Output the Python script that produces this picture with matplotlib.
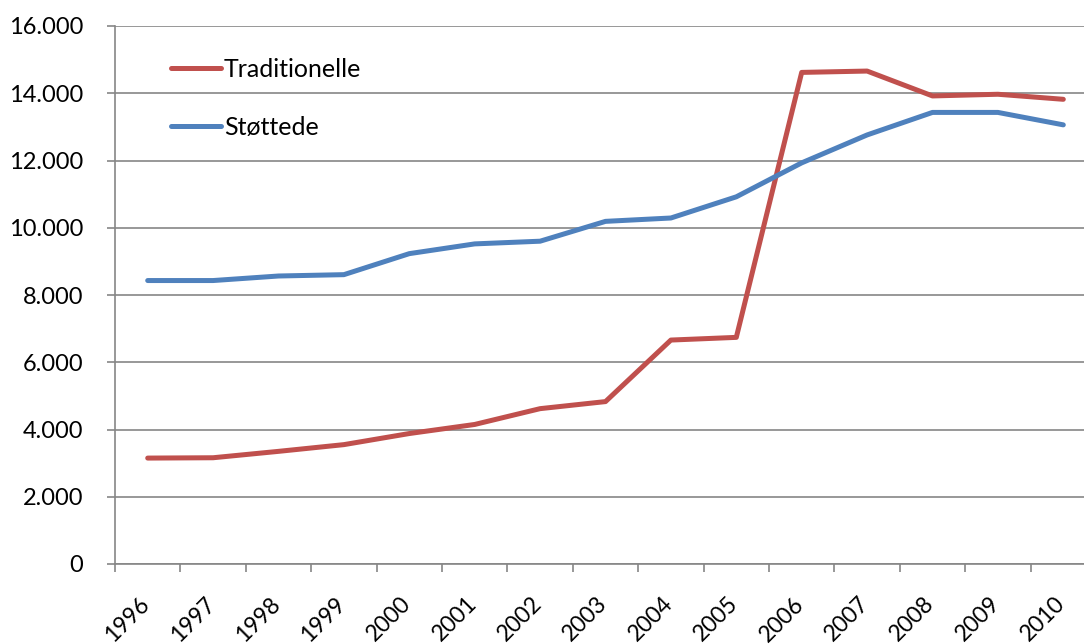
import matplotlib

matplotlib.use("Agg")
import matplotlib.pyplot as plt
from matplotlib.ticker import FixedLocator, FuncFormatter

years = [str(y) for y in range(1996, 2011)]
traditionelle = [3150, 3160, 3350, 3550, 3880, 4150, 4620, 4830, 6660, 6740,
                 14620, 14660, 13920, 13970, 13820]
stottede = [8430, 8430, 8565, 8605, 9230, 9520, 9600, 10190, 10290, 10920,
            11930, 12760, 13430, 13430, 13060]

RED = "#C0504D"
BLUE = "#4F81BD"
GRID = "#868686"

plt.rcParams["font.family"] = ["Lato", "DejaVu Sans"]

fig = plt.figure(figsize=(10.84, 6.44), dpi=100)
W, H = 1084, 644
# plot area runs slightly past the right edge, as in the original
ax = fig.add_axes([115 / W, 80 / H, 981 / W, 538 / H])

x = list(range(len(years)))
ax.plot(x, traditionelle, color=RED, linewidth=3.6, solid_capstyle="round",
        solid_joinstyle="round", label="Traditionelle", zorder=3)
ax.plot(x, stottede, color=BLUE, linewidth=3.6, solid_capstyle="round",
        solid_joinstyle="round", label="Støttede", zorder=3)

ax.set_xlim(-0.5, len(years) - 0.5)
ax.set_ylim(0, 16000)
ax.set_yticks(range(0, 16001, 2000))
ax.yaxis.set_major_formatter(FuncFormatter(lambda v, _: f"{int(v):,}".replace(",", ".")))
ax.grid(axis="y", color=GRID, linewidth=1.2)
ax.set_axisbelow(True)

# tick marks between categories, labels at the centres
ax.xaxis.set_major_locator(FixedLocator([i - 0.5 for i in range(len(years) + 1)]))
ax.xaxis.set_minor_locator(FixedLocator(x))
ax.set_xticklabels([])
ax.set_xticklabels(years, minor=True, rotation=45, ha="right", va="top",
                   rotation_mode="default")
ax.tick_params(axis="x", which="major", length=6, width=1.2, color=GRID, direction="out")
ax.tick_params(axis="x", which="minor", length=0, pad=21, labelsize=16.5)
ax.tick_params(axis="y", length=6, width=1.2, color=GRID, pad=17, labelsize=17)

for lbl in ax.get_xticklabels(minor=True):
    lbl.set_transform(lbl.get_transform() + matplotlib.transforms.ScaledTranslation(
        6 / 100, 0, fig.dpi_scale_trans))

for side in ("top", "right"):
    ax.spines[side].set_visible(False)
for side in ("left", "bottom"):
    ax.spines[side].set_color(GRID)
    ax.spines[side].set_linewidth(1.2)

ax.legend(loc="upper left", bbox_to_anchor=(171 / W, 1 - 58 / H),
          bbox_transform=fig.transFigure, frameon=False, fontsize=18,
          handlelength=2.0, handletextpad=0.12, labelspacing=1.4,
          borderaxespad=0, borderpad=0)

fig.savefig("out.png", dpi=100)
